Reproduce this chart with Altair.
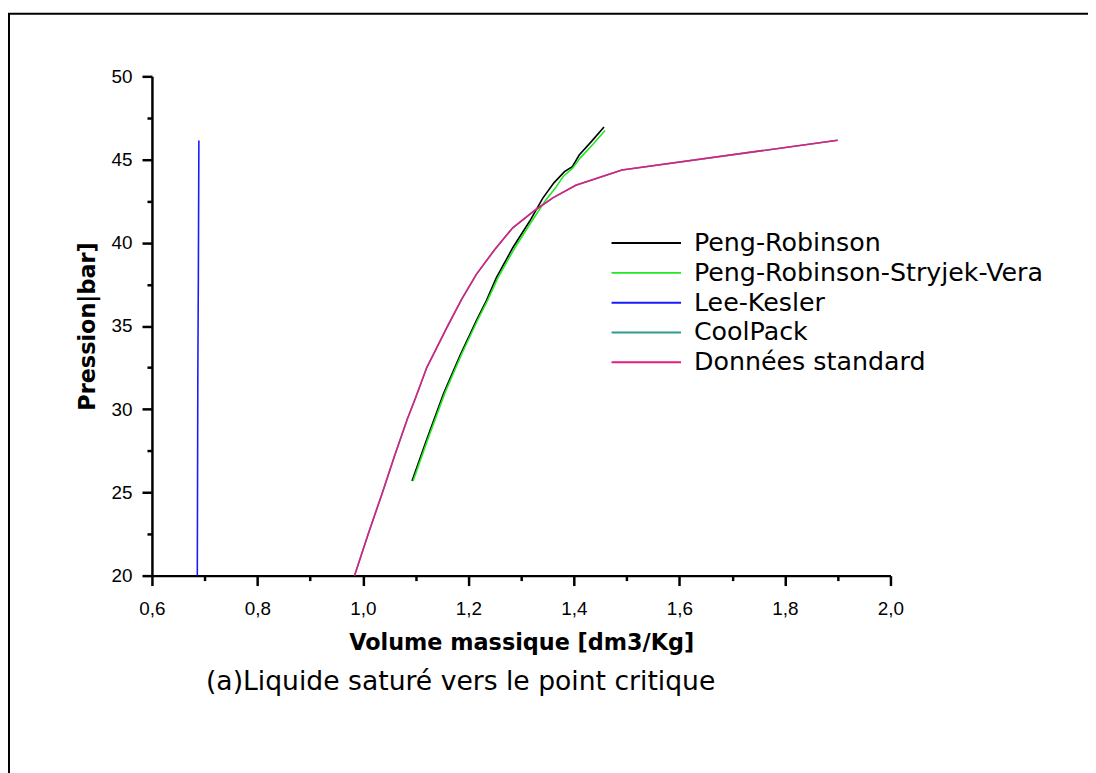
import altair as alt
import pandas as pd

# ---------------- data ----------------
series_names = ["Peng-Robinson", "Peng-Robinson-Stryjek-Vera", "Lee-Kesler",
                "CoolPack", "Données standard"]
series_colors = ["#000000", "#22e822", "#1a1aff", "#2e9a96", "#e01e80"]

pr_x = [1.093, 1.120, 1.153, 1.185, 1.215, 1.234, 1.253, 1.284, 1.316, 1.341, 1.362, 1.382, 1.397, 1.410, 1.435, 1.457]
pr_y = [25.68, 28.10, 30.95, 33.30, 35.33, 36.52, 37.90, 39.70, 41.29, 42.68, 43.60, 44.27, 44.57, 45.27, 46.15, 46.95]

prsv_x = [1.095, 1.122, 1.155, 1.187, 1.217, 1.236, 1.256, 1.288, 1.320, 1.345, 1.365, 1.380, 1.397, 1.412, 1.437, 1.459]
prsv_y = [25.68, 28.10, 30.95, 33.30, 35.33, 36.52, 37.90, 39.70, 41.29, 42.50, 43.30, 44.00, 44.47, 45.10, 45.95, 46.75]

lk_x = [0.686, 0.687, 0.688, 0.689]
lk_y = [20.0, 32.0, 38.0, 46.15]

std_x = [0.984, 1.010, 1.037, 1.060, 1.084, 1.100, 1.121, 1.140, 1.159, 1.187, 1.215, 1.250, 1.284, 1.328, 1.360, 1.4035, 1.491, 1.900]
std_y = [20.0, 22.5, 25.0, 27.2, 29.4, 30.7, 32.5, 33.7, 34.9, 36.6, 38.1, 39.6, 40.9, 42.0, 42.7, 43.45, 44.37, 46.16]

# CoolPack coincides with the standard data (hidden beneath it)
cp_x = list(std_x)
cp_y = list(std_y)

x_ticks = [round(0.6 + 0.1 * i, 1) for i in range(15)]
y_ticks = [20 + 2.5 * i for i in range(13)]

subtitle = "(a)Liquide saturé vers le point critique"

rows = []
for k, (name, xs, ys) in enumerate(zip(series_names,
                                       [pr_x, prsv_x, lk_x, cp_x, std_x],
                                       [pr_y, prsv_y, lk_y, cp_y, std_y])):
    for i, (xv, yv) in enumerate(zip(xs, ys)):
        rows.append({"v": xv, "p": yv, "serie": name, "k": k, "i": i})
df = pd.DataFrame(rows)

leg_df = pd.DataFrame({"serie": series_names, "row": list(range(len(series_names)))})

FONT = "Liberation Sans"
WIDE = "DejaVu Sans"

color_scale = alt.Scale(domain=series_names, range=series_colors)

x_axis = alt.Axis(
    values=x_ticks, title="Volume massique [dm3/Kg]",
    labelExpr="abs(round(datum.value*10)) % 2 == 0 ? replace(format(datum.value, '.1f'), '.', ',') : ''",
    tickSize={"condition": {"test": "abs(round(datum.value*10)) % 2 == 0", "value": 10}, "value": 5},
    labelOverlap=False, labelFlush=False, grid=False,
    domainColor="black", domainWidth=2.5, tickColor="black", tickWidth=2.5,
    labelFont=FONT, labelFontSize=19, labelColor="black", labelPadding=14,
    titleFont=WIDE, titleFontSize=22.5, titleFontWeight="bold", titleColor="black",
    titlePadding=13,
)
y_axis = alt.Axis(
    values=y_ticks, title="Pression|bar]",
    labelExpr="datum.value % 5 == 0 ? format(datum.value, 'd') : ''",
    tickSize={"condition": {"test": "datum.value % 5 == 0", "value": 10}, "value": 5},
    labelOverlap=False, labelFlush=False, grid=False,
    domainColor="black", domainWidth=2.5, tickColor="black", tickWidth=2.5,
    labelFont=FONT, labelFontSize=19, labelColor="black", labelPadding=10,
    titleFont=WIDE, titleFontSize=22.5, titleFontWeight="bold", titleColor="black",
    titlePadding=12,
)

lines = alt.Chart(df).mark_line(strokeWidth=1.6, clip=True).encode(
    x=alt.X("v:Q", scale=alt.Scale(domain=[0.6, 2.0], nice=False, zero=False), axis=x_axis),
    y=alt.Y("p:Q", scale=alt.Scale(domain=[20, 50], nice=False, zero=False), axis=y_axis),
    color=alt.Color("serie:N", scale=color_scale, sort=series_names, legend=None),
    detail="k:O",
    order="i:Q",
)

# legend built from the series list: rows 30 px apart
leg_y = alt.Y("row:Q", scale=alt.Scale(domain=[-5.6, -5.6 + 503 / 30], reverse=True, nice=False, zero=False), axis=None)
leg_lines = alt.Chart(leg_df).mark_rule(strokeWidth=2).encode(
    x=alt.value(463), x2=alt.value(533), y=leg_y,
    color=alt.Color("serie:N", scale=color_scale, legend=None),
)
leg_text = alt.Chart(leg_df).mark_text(
    align="left", baseline="middle", font=WIDE, fontSize=25.5, color="black"
).encode(x=alt.value(546), y=leg_y, text="serie:N")

frame = alt.Chart(pd.DataFrame({"a": [0]})).mark_rect(
    fill="transparent", stroke="black", strokeWidth=2, clip=False
).encode(
    x=alt.value(-144), x2=alt.value(1200), y=alt.value(-63), y2=alt.value(1000)
)

sub = alt.Chart(pd.DataFrame({"t": [subtitle]})).mark_text(
    align="center", baseline="middle", font=WIDE, fontSize=26.8, color="black"
).encode(text="t:N", x=alt.value(311), y=alt.value(610))

chart = alt.layer(frame, lines, alt.layer(leg_lines, leg_text), sub).resolve_scale(
    y="independent"
).properties(
    width=744, height=503,
    padding={"left": 145, "top": 66, "right": 199, "bottom": 196},
    autosize=alt.AutoSizeParams(type="none"),
    background="white",
).configure_view(stroke="transparent", strokeOpacity=0)

chart.save("out.html", embed_options={"renderer": "svg", "actions": False})
